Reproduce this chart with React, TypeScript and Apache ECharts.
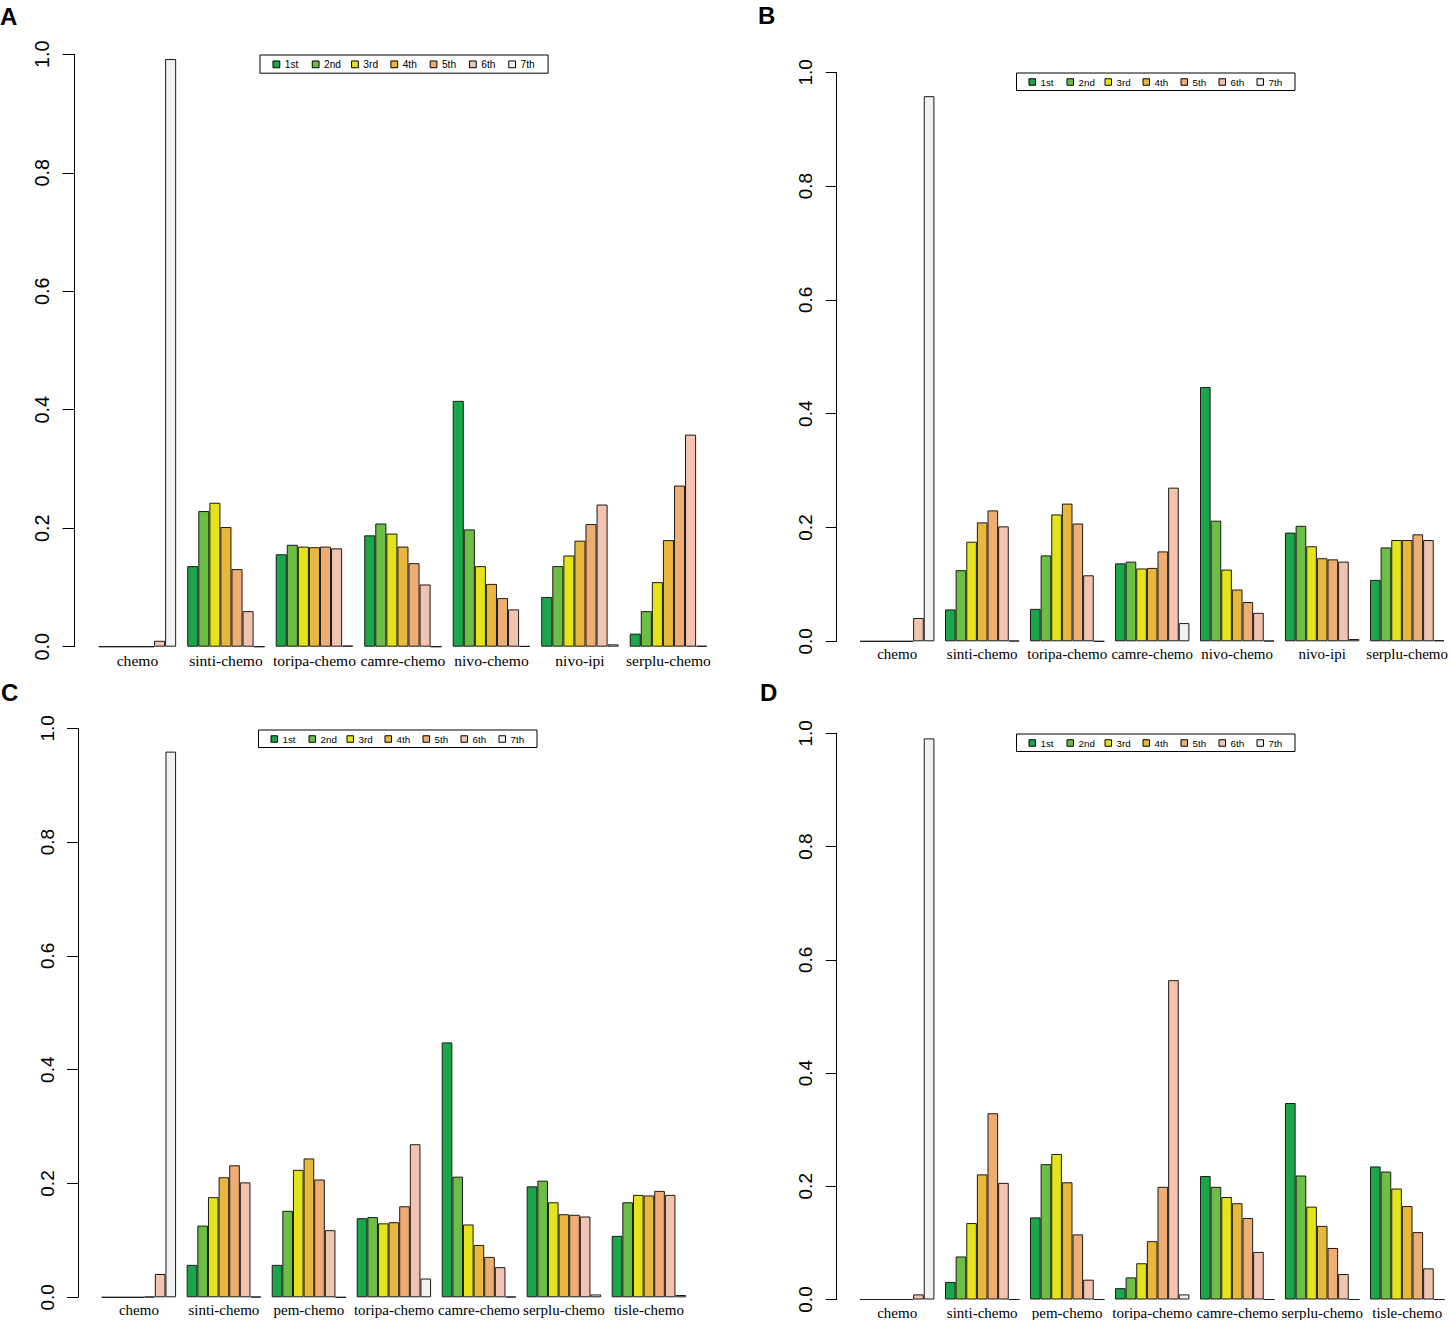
import React, { useEffect, useRef } from "react";
import * as echarts from "echarts";

// ---------- data ----------
const RANKS = ["1st", "2nd", "3rd", "4th", "5th", "6th", "7th"];
const COLORS = ["#1ba64a", "#6cbe45", "#e5e41a", "#e8b83c", "#eead72", "#f2c4b0", "#f2f2f2"];

const catsAB = ["chemo", "sinti-chemo", "toripa-chemo", "camre-chemo", "nivo-chemo", "nivo-ipi", "serplu-chemo"];
const catsCD = ["chemo", "sinti-chemo", "pem-chemo", "toripa-chemo", "camre-chemo", "serplu-chemo", "tisle-chemo"];
const yTicks = [0, 0.2, 0.4, 0.6, 0.8, 1.0];

const A_1st = [0, 0.136, 0.156, 0.188, 0.415, 0.084, 0.022];
const A_2nd = [0, 0.229, 0.172, 0.208, 0.198, 0.136, 0.06];
const A_3rd = [0, 0.243, 0.169, 0.191, 0.136, 0.154, 0.109];
const A_4th = [0, 0.202, 0.168, 0.169, 0.106, 0.179, 0.18];
const A_5th = [0, 0.131, 0.169, 0.141, 0.082, 0.207, 0.272];
const A_6th = [0.01, 0.06, 0.166, 0.105, 0.063, 0.24, 0.358];
const A_7th = [0.992, 0, 0.002, 0, 0.001, 0.004, 0.0015];

const B_1st = [0, 0.056, 0.057, 0.137, 0.447, 0.191, 0.108];
const B_2nd = [0, 0.125, 0.151, 0.14, 0.212, 0.203, 0.165];
const B_3rd = [0, 0.175, 0.223, 0.128, 0.126, 0.167, 0.178];
const B_4th = [0, 0.209, 0.242, 0.129, 0.091, 0.146, 0.178];
const B_5th = [0, 0.23, 0.207, 0.158, 0.069, 0.144, 0.188];
const B_6th = [0.041, 0.202, 0.116, 0.27, 0.05, 0.14, 0.178];
const B_7th = [0.958, 0.001, 0, 0.032, 0.001, 0.004, 0.002];

const C_1st = [0, 0.057, 0.057, 0.139, 0.448, 0.195, 0.108];
const C_2nd = [0, 0.126, 0.152, 0.141, 0.212, 0.205, 0.167];
const C_3rd = [0, 0.176, 0.224, 0.13, 0.128, 0.167, 0.18];
const C_4th = [0, 0.211, 0.244, 0.132, 0.092, 0.146, 0.179];
const C_5th = [0.001, 0.232, 0.207, 0.16, 0.071, 0.145, 0.187];
const C_6th = [0.041, 0.202, 0.118, 0.269, 0.053, 0.142, 0.18];
const C_7th = [0.959, 0.001, 0, 0.033, 0.001, 0.005, 0.004];

const D_1st = [0, 0.031, 0.145, 0.02, 0.218, 0.347, 0.235];
const D_2nd = [0, 0.076, 0.239, 0.039, 0.199, 0.219, 0.226];
const D_3rd = [0, 0.135, 0.257, 0.064, 0.181, 0.164, 0.196];
const D_4th = [0, 0.221, 0.207, 0.103, 0.17, 0.13, 0.165];
const D_5th = [0, 0.329, 0.115, 0.199, 0.144, 0.091, 0.119];
const D_6th = [0.009, 0.206, 0.035, 0.564, 0.084, 0.045, 0.055];
const D_7th = [0.991, 0, 0, 0.009, 0, 0, 0];

// ---------- layout ----------
type Panel = {
  letter: string;
  cats: string[];
  values: number[][];
  grid: { left: number; top: number; width: number; height: number };
  offset: number;
  s: number;
  legend: { left: number; top: number };
  letterPos: { x: number; y: number };
};

const panels: Panel[] = [
  {
    letter: "A",
    cats: catsAB,
    values: [A_1st, A_2nd, A_3rd, A_4th, A_5th, A_6th, A_7th],
    grid: { left: 93.2, top: 54.3, width: 619.5, height: 592.4 },
    offset: 19.2,
    s: 1.04,
    legend: { left: 260, top: 55 },
    letterPos: { x: 0, y: 16.2 },
  },
  {
    letter: "B",
    cats: catsAB,
    values: [B_1st, B_2nd, B_3rd, B_4th, B_5th, B_6th, B_7th],
    grid: { left: 854.7, top: 72.3, width: 595, height: 569 },
    offset: 18,
    s: 1,
    legend: { left: 1016.5, top: 73 },
    letterPos: { x: 758, y: 15 },
  },
  {
    letter: "C",
    cats: catsCD,
    values: [C_1st, C_2nd, C_3rd, C_4th, C_5th, C_6th, C_7th],
    grid: { left: 96.4, top: 728.3, width: 595, height: 569 },
    offset: 18.4,
    s: 1,
    legend: { left: 258.5, top: 730 },
    letterPos: { x: 1, y: 692 },
  },
  {
    letter: "D",
    cats: catsCD,
    values: [D_1st, D_2nd, D_3rd, D_4th, D_5th, D_6th, D_7th],
    grid: { left: 854.7, top: 733.3, width: 595, height: 569.4 },
    offset: 18,
    s: 1,
    legend: { left: 1016.5, top: 734 },
    letterPos: { x: 760, y: 692.5 },
  },
];

function buildOption() {
  const grid: any[] = [];
  const xAxis: any[] = [];
  const yAxis: any[] = [];
  const series: any[] = [];
  const legend: any[] = [];
  const graphic: any[] = [];

  panels.forEach((p, i) => {
    const s = p.s;
    grid.push({ ...p.grid, containLabel: false });
    xAxis.push({
      gridIndex: i,
      type: "category",
      data: p.cats,
      axisLine: { show: false },
      axisTick: { show: false },
      splitLine: { show: false },
      axisLabel: {
        interval: 0,
        margin: 5.5,
        fontSize: 15 * s,
        fontFamily: "Liberation Serif",
        color: "#000",
      },
    });
    yAxis.push({
      gridIndex: i,
      type: "value",
      min: yTicks[0],
      max: yTicks[yTicks.length - 1],
      interval: 0.2,
      offset: p.offset,
      axisLine: { show: true, lineStyle: { color: "#000", width: 1 } },
      axisTick: { show: true, length: 11 * s, lineStyle: { color: "#000", width: 1 } },
      splitLine: { show: false },
      axisLabel: {
        rotate: 90,
        margin: 21.5 * s,
        fontSize: 19 * s,
        fontFamily: "Liberation Sans",
        color: "#000",
        formatter: (v: number) => v.toFixed(1),
      },
    });
    p.values.forEach((vals, r) => {
      series.push({
        type: "bar",
        name: RANKS[r],
        xAxisIndex: i,
        yAxisIndex: i,
        data: vals,
        barGap: "0%",
        barCategoryGap: "12.5%",
        silent: true,
        itemStyle: { color: COLORS[r], borderColor: "#1a1a1a", borderWidth: 1 },
        emphasis: { disabled: true },
      });
    });
    legend.push({
      data: RANKS,
      left: p.legend.left,
      top: p.legend.top,
      orient: "horizontal",
      icon: "rect",
      itemWidth: 6.5 * s,
      itemHeight: 6.5 * s,
      itemGap: 7.5 * s,
      padding: [4 * s, 8 * s, 3.5 * s, 12 * s],
      borderColor: "#000",
      borderWidth: 1,
      selectedMode: false,
      itemStyle: { borderColor: "#000", borderWidth: 1 },
      textStyle: {
        fontSize: 9.8 * s,
        fontFamily: "Liberation Sans",
        color: "#000",
        width: 18.5 * s,
        lineHeight: 10 * s,
      },
    });
    graphic.push({
      type: "text",
      x: p.letterPos.x,
      y: p.letterPos.y,
      style: {
        text: p.letter,
        fontSize: 24,
        fontWeight: "bold",
        fontFamily: "Liberation Sans",
        fill: "#000",
        textVerticalAlign: "middle",
        verticalAlign: "middle",
      },
    });
  });

  return {
    animation: false,
    backgroundColor: "#ffffff",
    grid,
    xAxis,
    yAxis,
    legend,
    series,
    graphic,
  };
}

export default function App() {
  const ref = useRef<HTMLDivElement>(null);
  useEffect(() => {
    if (!ref.current) return;
    const chart = echarts.init(ref.current, undefined, { renderer: "svg" });
    chart.setOption(buildOption());
    return () => chart.dispose();
  }, []);
  return (
    <div
      ref={ref}
      style={{ position: "absolute", left: 0, top: 0, width: 1451, height: 1320, background: "#fff" }}
    />
  );
}
